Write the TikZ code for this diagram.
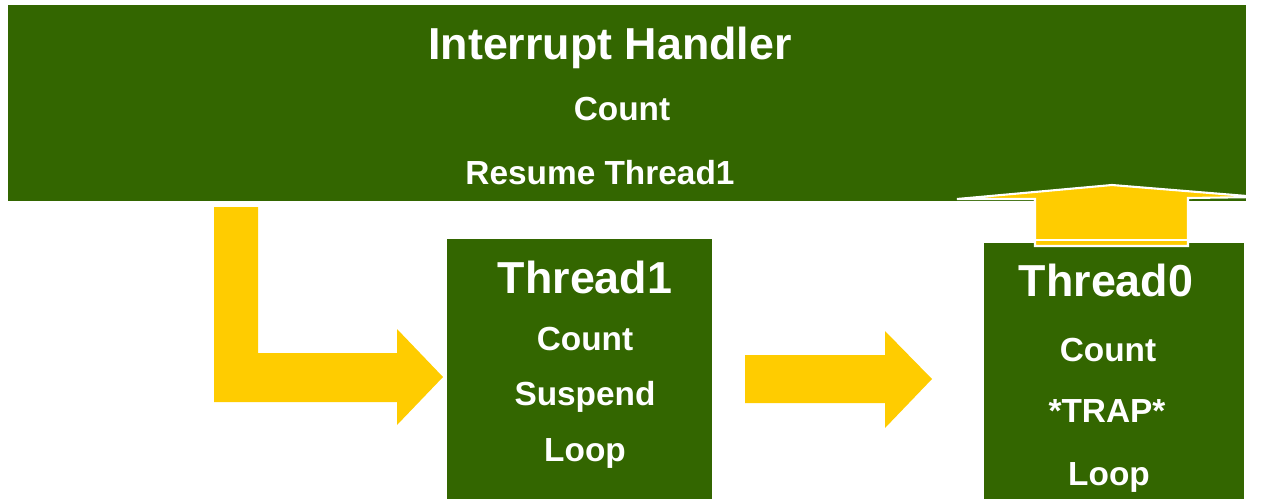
\documentclass[tikz,border=0pt]{standalone}
\usepackage{fontspec}
\setmainfont{Liberation Sans}
\usepackage{tikz}

\definecolor{handlergreen}{HTML}{336600}
\definecolor{flowyellow}{HTML}{FFCC00}

\begin{document}
\begin{tikzpicture}[x=0.02cm, y=-0.02cm,
    box/.style={fill=handlergreen, inner sep=0pt},
    title/.style={anchor=base, text=white, font=\fontsize{25.5}{28}\selectfont\bfseries},
    line/.style={anchor=base, text=white, font=\fontsize{19}{22}\selectfont\bfseries},
    flow/.style={fill=flowyellow}]
    \useasboundingbox (0,0) rectangle (1261,501);
    % boxes
    \node[box, minimum width=24.76cm, minimum height=3.92cm] (handler) at (627,103) {};
    \node[box, minimum width=5.3cm, minimum height=5.2cm] (thread1) at (579.5,369) {};
    \node[box, minimum width=5.2cm, minimum height=5.12cm] (thread0) at (1114,371) {};
    % texts
    \node[title] (htitle) at (610,59) {Interrupt Handler};
    \node[line] (hcount) at (622,120) {Count};
    \node[line] (hresume) at (600,184) {Resume Thread1};
    \node[title] (t1title) at (585,293) {Thread1};
    \node[line] (t1count) at (585,350) {Count};
    \node[line] (t1suspend) at (585,405) {Suspend};
    \node[line] (t1loop) at (585,461) {Loop};
    \node[title] (t0title) at (1106,296) {Thread0};
    \node[line] (t0count) at (1108,361) {Count};
    \node[line] (t0trap) at (1107,422) {*TRAP*};
    \node[line] (t0loop) at (1109,485) {Loop};
    % arrows
    \fill[flow] (214,207) -- (258,207) -- (258,353) -- (397,353) -- (397,329) -- (443,377)
        -- (397,425) -- (397,402) -- (214,402) -- cycle;
    \fill[flow] (745,355) -- (885,355) -- (885,331) -- (932,379) -- (885,428) -- (885,403)
        -- (745,403) -- cycle;
    \draw[flow, draw=white, line width=1.2pt] (1035,246) -- (1035,199) -- (957,199) -- (1112,185)
        -- (1259,197) -- (1188,198) -- (1188,246) -- cycle;
    \draw[white, line width=1.2pt] (1035,240) -- (1188,240);
\end{tikzpicture}
\end{document}
